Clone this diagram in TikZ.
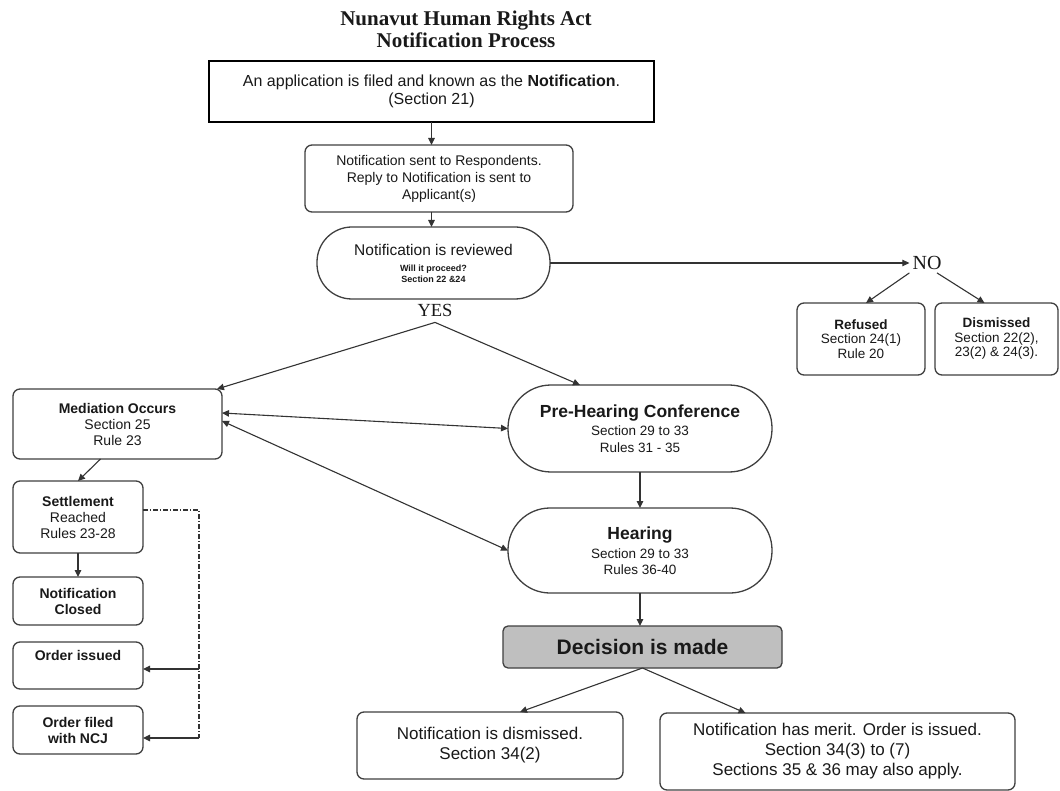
\documentclass[tikz,border=0pt]{standalone}
\usepackage{fontspec}
\setmainfont{Liberation Sans}
\newfontfamily\serifttl{Liberation Serif}
\usetikzlibrary{arrows.meta}
\begin{document}
\begin{tikzpicture}[x=1pt,y=-1pt,
  line/.style={draw=black!80, line width=1.1pt},
  arr/.style={line, -{Triangle[length=7pt,width=6.5pt]}},
  darr/.style={line, {Triangle[length=7pt,width=6.5pt]}-{Triangle[length=7pt,width=6.5pt]}},
  box/.style={draw=black!75, line width=1.3pt, rounded corners=7pt, inner sep=0pt, outer sep=0pt, align=center, text=black!90, fill=white},
  colbox/.style={box, minimum width=130pt, font=\fontsize{14}{16}\selectfont},
  dashdotline/.style={draw=black!80, line width=1.1pt, dash pattern=on 5pt off 2pt on 1pt off 2pt},
  serifbig/.style={inner sep=2pt, text=black!90, font=\serifttl\bfseries}
]
\useasboundingbox (0,0) rectangle (1060,791);
\fill[white] (0,0) rectangle (1060,791);

% title
\node[serifbig, align=center, font=\serifttl\bfseries\fontsize{21}{22}\selectfont] (title) at (466,29) {Nunavut Human Rights Act\\Notification Process};

% top chain
\node[box, sharp corners, draw=black, line width=1.8pt, minimum width=445pt, minimum height=61pt, font=\fontsize{16}{18}\selectfont] (app) at (431.5,91.5) {An application is filed and known as the \textbf{Notification}.\\(Section 21)};
\node[box, minimum width=268pt, minimum height=67pt, font=\fontsize{14}{17}\selectfont] (sent) at (439,178.5) {Notification sent to Respondents.\\Reply to Notification is sent to\\Applicant(s)};
\node[box, rounded corners=35pt, minimum width=233pt, minimum height=72pt, font=\fontsize{15.5}{16}\selectfont] (rev) at (433.5,263) {Notification is reviewed\\{\fontsize{9}{10}\selectfont\bfseries Will it proceed?}\\[-5pt]{\fontsize{9}{10}\selectfont\bfseries Section 22 \&24}};

\node[serifbig, font=\serifttl\fontsize{18.5}{19}\selectfont] (yes) at (435,310) {YES};
\node[serifbig, inner sep=3pt, font=\serifttl\fontsize{20}{21}\selectfont] (no) at (927,263) {NO};

% right branch
\node[box, minimum width=128pt, minimum height=72pt, font=\fontsize{13.5}{14.5}\selectfont] (ref) at (861,339) {\textbf{Refused}\\Section 24(1)\\Rule 20};
\node[box, minimum width=123pt, minimum height=72pt, font=\fontsize{13.5}{14.5}\selectfont] (dis) at (996.5,339) {\textbf{Dismissed}\\Section 22(2),\\23(2) \& 24(3).};

% left column
\node[box, minimum width=209pt, minimum height=70pt, font=\fontsize{14}{16}\selectfont] (med) at (117.5,424) {\textbf{Mediation Occurs}\\Section 25\\Rule 23};
\node[colbox, minimum height=72pt] (set) at (78,517) {\textbf{Settlement}\\Reached\\Rules 23-28};
\node[colbox, minimum height=48pt] (clo) at (78,601) {\textbf{Notification}\\\textbf{Closed}};
\node[colbox, minimum height=47pt] (oi) at (78,665.5) {\textbf{Order issued}\\[-1pt]\strut};
\node[colbox, minimum height=48pt] (of) at (78,730) {\textbf{Order filed}\\\textbf{with NCJ}};

% centre column
\node[box, rounded corners=43pt, minimum width=264pt, minimum height=87pt, font=\fontsize{13.5}{16.5}\selectfont] (pre) at (640,428.5) {{\fontsize{17.5}{18}\selectfont\bfseries Pre-Hearing Conference}\\[1.5pt]Section 29 to 33\\Rules 31 - 35};
\node[box, rounded corners=42pt, minimum width=264pt, minimum height=85pt, font=\fontsize{13.5}{16.5}\selectfont] (hea) at (640,550.5) {{\fontsize{17.5}{18}\selectfont\bfseries Hearing}\\[2.5pt]Section 29 to 33\\Rules 36-40};
\node[box, rounded corners=5pt, fill=black!25, minimum width=279pt, minimum height=42pt, font=\fontsize{21}{22}\selectfont\bfseries] (dec) at (642.5,647) {Decision is made};

% bottom
\node[box, minimum width=266pt, minimum height=67pt, font=\fontsize{17}{20}\selectfont] (nd) at (490,745.5) {Notification is dismissed.\\Section 34(2)};
\node[box, minimum width=355pt, minimum height=77pt, font=\fontsize{17}{20}\selectfont] (mer) at (837.5,751.5) {Notification has merit. Order is issued.\\Section 34(3) to (7)\\Sections 35 \& 36 may also apply.};

% coordinates for the dash-dot branch
\coordinate (dd1) at (199,669);
\coordinate (dd2) at (199,738);

% connectors
\draw[arr] (app.south) -- (app.south |- sent.north);
\draw[arr] (app.south |- sent.south) -- (app.south |- rev.north);
\draw[arr] (rev.east) -- (no.west);
\draw[arr] (no.south west) -- ([xshift=5pt]ref.north);
\draw[arr] ([xshift=10pt]no.south) -- ([xshift=-12pt]dis.north);
\draw[arr] ([yshift=-4pt]yes.south) -- ([xshift=-5pt]med.north east);
\draw[arr] ([yshift=-4pt]yes.south) -- ([xshift=-60pt]pre.north);
\draw[darr] ([yshift=11pt]med.east) -- (pre.west);
\draw[darr] ([yshift=3pt]med.east) -- (hea.west);
\draw[arr] (pre.south) -- (hea.north);
\draw[arr] (hea.south) -- (hea.south |- dec.north);
\draw[arr] (dec.south) -- ([xshift=30pt]nd.north);
\draw[arr] (dec.south) -- ([xshift=-92pt]mer.north);
\draw[arr] ([xshift=-17pt]med.south) -- (set.north);
\draw[arr] (set.south) -- (clo.north);
\draw[dashdotline] ([yshift=7pt]set.east) -| (dd2);
\draw[arr] (dd1) -- (dd1 -| oi.east);
\draw[arr] (dd2) -- (dd2 -| of.east);
\end{tikzpicture}
\end{document}
